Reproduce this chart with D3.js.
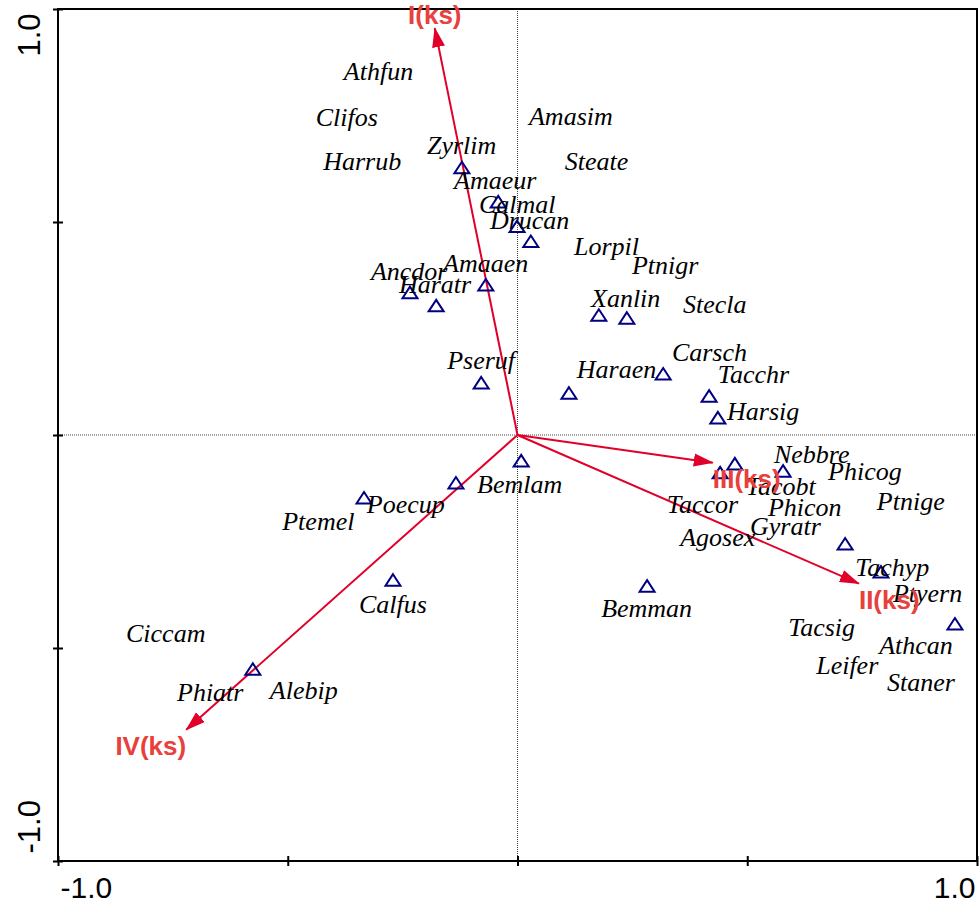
<!DOCTYPE html>
<html>
<head>
<meta charset="utf-8">
<script src="https://cdn.jsdelivr.net/npm/d3@7"></script>
<style>
	body { margin: 0; background: #fff; }
	svg { display: block; }
</style>
</head>
<body>
<div id="chart"></div>
<script>
// species labels (ordination scores, label anchor)
var speciesNames = ["Athfun", "Clifos", "Harrub", "Zyrlim", "Amasim", "Steate", "Amaeur", "Calmal", "Drucan",
	"Lorpil", "Ptnigr", "Ancdor", "Amaaen", "Haratr", "Xanlin", "Stecla", "Pseruf", "Carsch", "Haraen",
	"Tacchr", "Harsig", "Nebbre", "Phicog", "Tacobt", "Ptnige", "Taccor", "Phicon", "Gyratr", "Agosex",
	"Tachyp", "Ptyern", "Tacsig", "Athcan", "Leifer", "Staner", "Bemman", "Bemlam", "Poecup", "Ptemel",
	"Calfus", "Ciccam", "Phiatr", "Alebip"];
var speciesX = [-0.378, -0.439, -0.423, -0.197, 0.025, 0.103, -0.138, -0.084, -0.060,
	0.123, 0.249, -0.319, -0.162, -0.258, 0.160, 0.360, -0.153, 0.336, 0.129,
	0.436, 0.456, 0.558, 0.676, 0.497, 0.782, 0.325, 0.545, 0.506, 0.354,
	0.735, 0.817, 0.589, 0.787, 0.650, 0.804, 0.182, -0.088, -0.328, -0.512,
	-0.345, -0.852, -0.741, -0.539];
var speciesY = [0.833, 0.725, 0.622, 0.659, 0.727, 0.622, 0.577, 0.521, 0.483,
	0.422, 0.377, 0.363, 0.382, 0.333, 0.300, 0.286, 0.156, 0.173, 0.133,
	0.121, 0.036, -0.065, -0.105, -0.140, -0.177, -0.184, -0.191, -0.234, -0.260,
	-0.330, -0.391, -0.471, -0.513, -0.562, -0.600, -0.427, -0.135, -0.184, -0.222,
	-0.417, -0.487, -0.624, -0.619];

// sample scores (triangles)
var sampleX = [-0.121, -0.042, -0.001, 0.029, -0.234, -0.177, -0.069, 0.177, 0.238, -0.079, 0.112, 0.317, 0.417,
	0.436, 0.008, -0.134, -0.334, -0.271, -0.576, 0.282, 0.441, 0.473, 0.578, 0.713, 0.791, 0.952];
var sampleY = [0.626, 0.546, 0.488, 0.453, 0.333, 0.302, 0.351, 0.280, 0.273, 0.121, 0.097, 0.142, 0.090,
	0.039, -0.062, -0.114, -0.149, -0.342, -0.551, -0.356, -0.090, -0.069, -0.086, -0.257, -0.323, -0.445];

// environmental arrows
var arrowNames = ["I(ks)", "II(ks)", "III(ks)", "IV(ks)"];
var arrowX = [-0.180, 0.743, 0.425, -0.721];
var arrowY = [0.955, -0.349, -0.065, -0.692];

var tickValues = [-1, -0.5, 0, 0.5, 1];
var tickLabels = {"-1": "-1.0", "1": "1.0"};

var width = 979,
	height = 904;

var x = d3.scaleLinear().domain([-1, 1]).range([58, 977]);
var y = d3.scaleLinear().domain([-1, 1]).range([861, 9]);

var svg = d3.select("#chart")
	.append("svg")
	.attr("width", width)
	.attr("height", height);

var defs = svg.append("defs");
defs.append("marker")
	.attr("id", "head")
	.attr("markerUnits", "userSpaceOnUse")
	.attr("viewBox", "0 -7 20 14")
	.attr("refX", 19)
	.attr("refY", 0)
	.attr("markerWidth", 20)
	.attr("markerHeight", 14)
	.attr("orient", "auto")
	.append("path")
	.attr("d", "M0,-6.5L20,0L0,6.5Z")
	.attr("fill", "#e0002a");

// dotted zero lines
svg.append("line")
	.attr("x1", x(0)).attr("x2", x(0))
	.attr("y1", y(1)).attr("y2", y(-1))
	.attr("stroke", "#444")
	.attr("stroke-width", 1)
	.attr("stroke-dasharray", "1,1");
svg.append("line")
	.attr("x1", x(-1)).attr("x2", x(1))
	.attr("y1", y(0)).attr("y2", y(0))
	.attr("stroke", "#444")
	.attr("stroke-width", 1)
	.attr("stroke-dasharray", "1,1");

// frame
svg.append("rect")
	.attr("x", x(-1))
	.attr("y", y(1))
	.attr("width", x(1) - x(-1))
	.attr("height", y(-1) - y(1))
	.attr("fill", "none")
	.attr("stroke", "#000")
	.attr("stroke-width", 2);

// axes
var xAxis = d3.axisBottom(x)
	.tickValues(tickValues)
	.tickSize(5)
	.tickFormat(function(d) { return tickLabels[d] || ""; });

var gx = svg.append("g")
	.attr("transform", "translate(0," + y(-1) + ")")
	.call(xAxis);
gx.select(".domain").remove();
gx.selectAll(".tick line")
	.attr("y1", -5)
	.attr("stroke", "#000")
	.attr("stroke-width", 2);
gx.selectAll(".tick text")
	.attr("font-family", "'Liberation Sans', Arial, sans-serif")
	.attr("font-size", 30)
	.attr("fill", "#000")
	.attr("y", 37)
	.attr("dy", 0)
	.attr("text-anchor", function(d) { return d < 0 ? "start" : "end"; })
	.attr("dx", function(d) { return d < 0 ? 2 : -2; });

var yAxis = d3.axisLeft(y)
	.tickValues(tickValues)
	.tickSize(5)
	.tickFormat(function(d) { return tickLabels[d] || ""; });

var gy = svg.append("g")
	.attr("transform", "translate(" + x(-1) + ",0)")
	.call(yAxis);
gy.select(".domain").remove();
gy.selectAll(".tick line")
	.attr("x1", 5)
	.attr("stroke", "#000")
	.attr("stroke-width", 2);
gy.selectAll(".tick text")
	.attr("font-family", "'Liberation Sans', Arial, sans-serif")
	.attr("font-size", 31)
	.attr("fill", "#000")
	.attr("transform", "rotate(-90)")
	.attr("dy", 0)
	.attr("y", -18)
	.attr("x", function(d) { return d < 0 ? 8 : -4; })
	.attr("text-anchor", function(d) { return d < 0 ? "start" : "end"; });

// arrows
var arrowData = arrowNames.map(function(n, i) { return {name: n, x: arrowX[i], y: arrowY[i]}; });

svg.selectAll("line.arrow")
	.data(arrowData)
	.enter()
	.append("line")
	.attr("class", "arrow")
	.attr("x1", x(0))
	.attr("y1", y(0))
	.attr("x2", function(d) { return x(d.x); })
	.attr("y2", function(d) { return y(d.y); })
	.attr("stroke", "#e0002a")
	.attr("stroke-width", 2)
	.attr("marker-end", "url(#head)");

// samples
var tri = "M0,-6.5L7.5,5L-7.5,5Z";
svg.selectAll("path.sample")
	.data(sampleX)
	.enter()
	.append("path")
	.attr("class", "sample")
	.attr("d", tri)
	.attr("transform", function(d, i) { return "translate(" + x(d) + "," + y(sampleY[i]) + ")"; })
	.attr("fill", "none")
	.attr("stroke", "#000080")
	.attr("stroke-width", 2);

// species labels
svg.selectAll("text.species")
	.data(speciesNames)
	.enter()
	.append("text")
	.attr("class", "species")
	.attr("x", function(d, i) { return x(speciesX[i]); })
	.attr("y", function(d, i) { return y(speciesY[i]); })
	.attr("font-family", "'Liberation Serif', 'Times New Roman', serif")
	.attr("font-style", "italic")
	.attr("font-size", 26)
	.attr("fill", "#000")
	.text(function(d) { return d; });

// arrow labels
svg.selectAll("text.arrowlab")
	.data(arrowData)
	.enter()
	.append("text")
	.attr("class", "arrowlab")
	.attr("x", function(d) { return x(d.x); })
	.attr("y", function(d) { return d.y > 0 ? y(d.y) - 4 : y(d.y) + 25; })
	.attr("text-anchor", function(d) {
		if (d.y > 0) return "middle";
		return d.x < 0 ? "end" : "start";
	})
	.attr("font-family", "'Liberation Sans', Arial, sans-serif")
	.attr("font-weight", "bold")
	.attr("font-size", 26)
	.attr("fill", "#e8403c")
	.text(function(d) { return d.name; });
</script>
</body>
</html>
